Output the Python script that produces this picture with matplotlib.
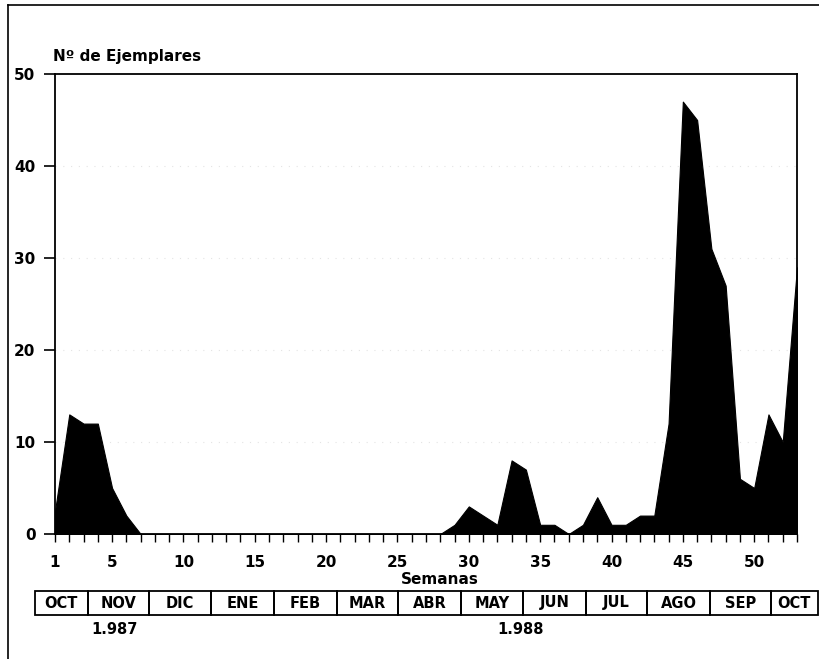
import numpy as np
import matplotlib.pyplot as plt
from matplotlib.patches import Rectangle
from matplotlib.lines import Line2D
import matplotlib.transforms as mtransforms

plt.rcParams['font.family'] = ['DejaVu Sans']
plt.rcParams['font.weight'] = 'bold'

# weekly counts, weeks 1..53 (Oct 1987 - Oct 1988)
weeks = np.arange(1, 54)
counts = [2.5, 13, 12, 12, 5, 2] + [0] * 22 + \
         [1, 3, 2, 1, 8, 7, 1, 1, 0, 1, 4, 1, 1, 2, 2, 12,
          47, 45, 31, 27, 6, 5, 13, 10, 29]

week_ticks = [1, 5, 10, 15, 20, 25, 30, 35, 40, 45, 50]
y_ticks = [0, 10, 20, 30, 40, 50]

months = ["OCT", "NOV", "DIC", "ENE", "FEB", "MAR", "ABR",
          "MAY", "JUN", "JUL", "AGO", "SEP", "OCT"]
# month box edges in week units
month_edges = [-0.4, 3.29, 7.59, 11.91, 16.35, 20.74, 25.06,
               29.45, 33.82, 38.21, 42.51, 46.9, 51.15, 54.49]
years = ["1.987", "1.988"]
year_pos = [5.2, 33.6]

W, H = 820, 659
fig = plt.figure(figsize=(W / 100, H / 100), dpi=100)
ax = fig.add_axes([55 / W, 1 - 534 / H, (797 - 55) / W, (534 - 74) / H])

ax.fill_between(weeks, counts, 0, color='black', linewidth=0.8, edgecolor='black')
ax.set_xlim(1, 53)
ax.set_ylim(0, 50)

ax.set_xticks(weeks)
ax.set_xticklabels([str(w) if w in week_ticks else "" for w in weeks])
ax.set_yticks(y_ticks)
ax.tick_params(axis='x', direction='out', length=6, width=1, pad=9, labelsize=11)
ax.tick_params(axis='y', direction='out', length=8, width=1.2, pad=6, labelsize=11)
for lbl in ax.get_xticklabels() + ax.get_yticklabels():
    lbl.set_fontweight('bold')
for sp in ax.spines.values():
    sp.set_linewidth(1.3)

# faint dotted gridlines (as in the scanned original)
for yv in [10, 20, 30, 40]:
    ax.axhline(yv, color='#e4e4e4', linestyle=(0, (1, 6)), linewidth=0.8, zorder=0)

fig.text(53 / W, 1 - 57 / H, "Nº de Ejemplares", ha='left', va='center',
         fontsize=11, fontweight='bold')

trans = mtransforms.blended_transform_factory(ax.transData, fig.transFigure)
ax.text(28.0, 1 - 579 / H, "Semanas", transform=trans, ha='center', va='center',
        fontsize=11, fontweight='bold')

box_top = 1 - 591 / H
box_bot = 1 - 615 / H
for i, m in enumerate(months):
    x0, x1 = month_edges[i], month_edges[i + 1]
    r = Rectangle((x0, box_bot), x1 - x0, box_top - box_bot, transform=trans,
                  fill=False, edgecolor='black', linewidth=1.3, clip_on=False)
    ax.add_patch(r)
    ax.text((x0 + x1) / 2, (box_top + box_bot) / 2, m, transform=trans,
            ha='center', va='center', fontsize=10.5, fontweight='bold')

for yl, xp in zip(years, year_pos):
    ax.text(xp, 1 - 629 / H, yl, transform=trans, ha='center', va='center',
            fontsize=10.5, fontweight='bold')

# outer frame (top and left edges)
fig.add_artist(Line2D([8 / W, 1], [1 - 5 / H, 1 - 5 / H], transform=fig.transFigure,
                      color='black', linewidth=1.2))
fig.add_artist(Line2D([8 / W, 8 / W], [0, 1 - 5 / H], transform=fig.transFigure,
                      color='black', linewidth=1.2))

fig.savefig("out.png", dpi=100)
